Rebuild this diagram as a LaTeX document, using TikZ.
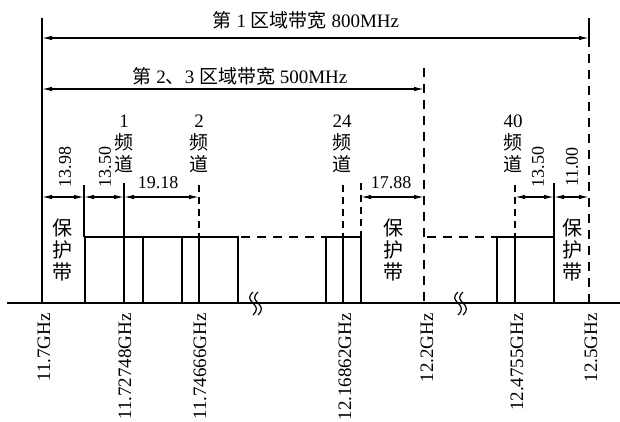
\documentclass[tikz,border=0pt]{standalone}
\usepackage{fontspec}
\setmainfont{Liberation Serif}
\newfontfamily\cjk{Noto Sans CJK SC}
\usetikzlibrary{arrows.meta}
\begin{document}
\begin{tikzpicture}[x=1pt,y=-1pt,
  thinline/.style={line width=1.2pt},
  bar/.style={line width=2.8pt},
  dashline/.style={line width=1.4pt, dash pattern=on 9pt off 7pt},
  dim/.style={line width=1.2pt,{Latex[length=10pt,width=4.5pt]}-{Latex[length=10pt,width=4.5pt]}},
  freq/.style={rotate=90,anchor=east,font=\fontsize{19}{19}\selectfont,inner sep=0pt},
  num/.style={font=\fontsize{18}{18}\selectfont,inner sep=0pt},
  chan/.style={align=center,font=\fontsize{19}{22}\selectfont,inner sep=0pt},
  guard/.style={align=center,font=\fontsize{20}{22}\selectfont\cjk,inner sep=0pt},
  title/.style={font=\fontsize{19}{19}\selectfont,inner sep=0pt},
  squig/.style={line width=1.2pt}
]
\useasboundingbox (0,0) rectangle (620,422);

% key coordinates
\coordinate (axL) at (7,303);
\coordinate (axR) at (620,303);
\coordinate (Lt) at (42,18);   \coordinate (Lb) at (42,303);
\coordinate (Mt) at (424,68);  \coordinate (Mb) at (424,303);
\coordinate (Rt) at (589,18);  \coordinate (Ra) at (589,38); \coordinate (Rb) at (589,303);
\coordinate (A1l) at (42,38);  \coordinate (A1r) at (589,38);
\coordinate (A2l) at (42,89);  \coordinate (A2r) at (424,89);

% axis and main verticals
\draw[line width=1.5pt] (axL) -- (axR);
\draw[line width=1.5pt] (Lt) -- (Lb);
\draw[dashline] (Mt) -- (Mb);
\draw[line width=1.5pt] (Rt) -- (Ra);
\draw[dashline] (Ra) -- (Rb);

% bandwidth arrows
\draw[dim] (A1l) -- (A1r);
\draw[dim] (A2l) -- (A2r);
\node[title] (t1) at (306,20) {{\cjk 第} 1 {\cjk 区域带宽} 800MHz};
\node[title] (t2) at (240,76) {{\cjk 第} 2{\cjk 、}3 {\cjk 区域带宽} 500MHz};

% channel groups (thick bars)
\draw[bar] (85,303) -- (85,237) -- (238,237) -- (238,303);
\foreach \x in {124,143,182,199} \draw[bar] (\x,303) -- (\x,237);
\draw[bar] (326,303) -- (326,237) -- (361,237) -- (361,303);
\draw[bar] (343,303) -- (343,237);
\draw[bar] (497,303) -- (497,237) -- (554,237) -- (554,303);
\draw[bar] (515,303) -- (515,237);

% dashed continuation of channel tops
\draw[dashline] (241,237) -- (325,237);
\draw[dashline] (427,237) -- (496,237);

% extension lines
\draw[thinline] (84,185) -- (84,237);
\draw[thinline] (124,183) -- (124,237);
\draw[thinline,dash pattern=on 7pt off 5pt] (199,185) -- (199,237);
\draw[thinline,dash pattern=on 7pt off 5pt] (343,185) -- (343,237);
\draw[thinline,dash pattern=on 7pt off 5pt] (361,183) -- (361,237);
\draw[thinline,dash pattern=on 7pt off 5pt] (515,185) -- (515,237);
\draw[thinline] (554,183) -- (554,237);

% dimension arrows
\draw[dim] (42,197) -- (84,197);
\draw[dim] (84,197) -- (124,197);
\draw[dim] (124,197) -- (199,197);
\draw[dim] (361,197) -- (424,197);
\draw[dim] (515,197) -- (554,197);
\draw[dim] (554,197) -- (589,197);

\node[num,rotate=90] (d1) at (65,167) {13.98};
\node[num,rotate=90] (d2) at (105,167) {13.50};
\node[num] (d3) at (158,183) {19.18};
\node[num] (d4) at (391,183) {17.88};
\node[num,rotate=90] (d5) at (538,167) {13.50};
\node[num,rotate=90] (d6) at (572,167) {11.00};

% channel labels
\node[chan] (c1) at (124,144) {1\\{\cjk 频}\\{\cjk 道}};
\node[chan] (c2) at (199,144) {2\\{\cjk 频}\\{\cjk 道}};
\node[chan] (c24) at (342,144) {24\\{\cjk 频}\\{\cjk 道}};
\node[chan] (c40) at (513,144) {40\\{\cjk 频}\\{\cjk 道}};

% guard bands
\node[guard] (g1) at (62,250) {保\\护\\带};
\node[guard] (g2) at (393,250) {保\\护\\带};
\node[guard] (g3) at (572,250) {保\\护\\带};

% break marks
\foreach \x in {255,460} {
  \draw[squig] (\x-2,292) .. controls (\x-7,297) and (\x-6,299) .. (\x-2,303) .. controls (\x+2,307) and (\x+3,310) .. (\x-2,315);
  \draw[squig] (\x+3,292) .. controls (\x-2,297) and (\x-1,299) .. (\x+3,303) .. controls (\x+7,307) and (\x+8,310) .. (\x+3,315);
}

% frequency labels
\node[freq] (f1) at (44,313) {11.7GHz};
\node[freq] (f2) at (125,313) {11.72748GHz};
\node[freq] (f3) at (200,313) {11.74666GHz};
\node[freq] (f4) at (345,313) {12.16862GHz};
\node[freq] (f5) at (427,313) {12.2GHz};
\node[freq] (f6) at (517,313) {12.4755GHz};
\node[freq] (f7) at (591,313) {12.5GHz};
\end{tikzpicture}
\end{document}
